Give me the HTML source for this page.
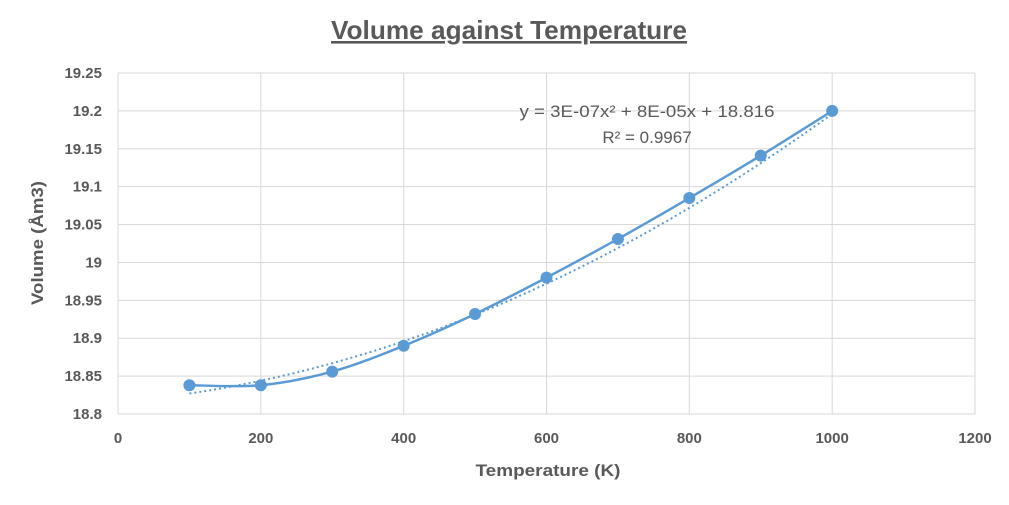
<!DOCTYPE html>
<html><head><meta charset="utf-8"><style>
html,body{margin:0;padding:0;background:#fff;}
svg{display:block;font-family:"Liberation Sans",sans-serif;}
</style></head><body>
<svg id="s" width="1009" height="505" viewBox="0 0 1009 505">
<rect width="1009" height="505" fill="#fff"/>
<text x="509" y="39" text-anchor="middle" font-size="26" font-weight="bold" fill="#595959" text-decoration="underline" textLength="356" lengthAdjust="spacingAndGlyphs">Volume against Temperature</text>
<g id="grid" stroke="#d9d9d9" stroke-width="1"></g>
<g id="ylab" font-size="15" font-weight="bold" fill="#595959" text-anchor="end"></g>
<g id="xlab" font-size="15" font-weight="bold" fill="#595959" text-anchor="middle"></g>
<text x="548" y="476" text-anchor="middle" font-size="17" font-weight="bold" fill="#595959" textLength="145" lengthAdjust="spacingAndGlyphs">Temperature (K)</text>
<text transform="translate(43,243) rotate(-90)" text-anchor="middle" font-size="17" font-weight="bold" fill="#595959" textLength="124" lengthAdjust="spacingAndGlyphs">Volume (Åm3)</text>
<polyline id="trend" fill="none" stroke="#5B9BD5" stroke-width="2" stroke-dasharray="2,3"/>
<path id="line" fill="none" stroke="#5B9BD5" stroke-width="2.5"/>
<g id="pts" fill="#5B9BD5"></g>
<text x="647" y="117" text-anchor="middle" font-size="17" fill="#595959" textLength="255" lengthAdjust="spacingAndGlyphs">y = 3E-07x² + 8E-05x + 18.816</text>
<text x="647" y="143" text-anchor="middle" font-size="17" fill="#595959">R² = 0.9967</text>
</svg>
<script>
var NS="http://www.w3.org/2000/svg";
function X(v){return 118+v*857/1200;}
function Y(v){return 73+(19.25-v)/0.05*37.89;}
function el(p,t,a,txt){var e=document.createElementNS(NS,t);for(var k in a)e.setAttribute(k,a[k]);if(txt!=null)e.textContent=txt;document.getElementById(p).appendChild(e);}
var yl=["19.25","19.2","19.15","19.1","19.05","19","18.95","18.9","18.85","18.8"];
for(var i=0;i<10;i++){var y=Y(19.25-i*0.05);el("grid","line",{x1:118,x2:975,y1:y,y2:y});el("ylab","text",{x:102,y:y+5},yl[i]);}
for(var i=0;i<=6;i++){var x=X(i*200);el("grid","line",{x1:x,x2:x,y1:73,y2:414});el("xlab","text",{x:x,y:443},String(i*200));}
var tp=[];for(var t=100;t<=1000;t+=25){tp.push(X(t)+","+Y(18.816+8e-5*t+3e-7*t*t));}
document.getElementById("trend").setAttribute("points",tp.join(" "));
var d=[18.838,18.838,18.856,18.89,18.932,18.98,19.031,19.085,19.141,19.2];
var P=d.map(function(v,i){return [X((i+1)*100),Y(v)];});
var s="M"+P[0][0]+","+P[0][1];
for(var i=0;i<P.length-1;i++){var p0=P[Math.max(0,i-1)],p1=P[i],p2=P[i+1],p3=P[Math.min(P.length-1,i+2)];
var c1=[p1[0]+(p2[0]-p0[0])/6,p1[1]+(p2[1]-p0[1])/6],c2=[p2[0]-(p3[0]-p1[0])/6,p2[1]-(p3[1]-p1[1])/6];
s+=" C"+c1+" "+c2+" "+p2;}
document.getElementById("line").setAttribute("d",s);
P.forEach(function(p){el("pts","circle",{cx:p[0],cy:p[1],r:6});});
</script>
</body></html>
